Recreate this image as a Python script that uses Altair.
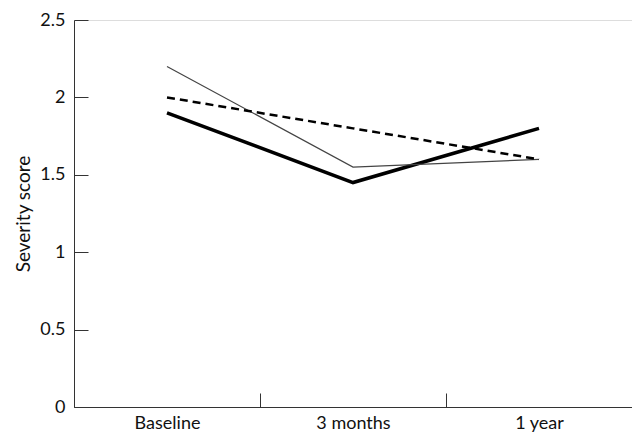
import json
import altair as alt
import pandas as pd

times = ["Baseline", "3 months", "1 year"]
thick_vals = [1.9, 1.45, 1.8]
thin_vals = [2.2, 1.55, 1.6]
dashed_vals = [2.0, 1.8, 1.6]
y_ticks = [0, 0.5, 1, 1.5, 2, 2.5]
x_bounds = [-0.5, 0.5, 1.5, 2.5]

W, H = 558, 387
FONT = "Lato"


def frame(vals):
    return pd.DataFrame({"idx": list(range(len(times))), "time": times, "score": vals})


label_expr = json.dumps(times) + "[datum.value]"

x_main = alt.X(
    "idx:Q",
    scale=alt.Scale(domain=[-0.5, 2.5], nice=False, zero=False),
    axis=alt.Axis(
        orient="bottom", values=[0, 1, 2], labelExpr=label_expr, ticks=False,
        tickSize=0, grid=False, domain=True, domainColor="#333", domainWidth=1,
        labelPadding=7, labelFontSize=18, labelFont=FONT, labelColor="#111",
        title=None,
    ),
)
y_main = alt.Y(
    "score:Q",
    scale=alt.Scale(domain=[0, 2.5], nice=False),
    axis=alt.Axis(
        orient="left", values=y_ticks, format="~g", ticks=False, tickSize=0,
        grid=False, domain=True, domainColor="#333", domainWidth=1,
        labelPadding=9, labelFontSize=18, labelFont=FONT, labelColor="#111",
        title="Severity score", titleFont=FONT, titleFontSize=19,
        titleFontWeight="normal", titleColor="#111", titlePadding=6,
    ),
)

thick = alt.Chart(frame(thick_vals)).mark_line(color="black", strokeWidth=3.5).encode(
    x=x_main, y=y_main
)
thin = alt.Chart(frame(thin_vals)).mark_line(color="#444", strokeWidth=1.2).encode(
    x=alt.X("idx:Q", axis=None), y=alt.Y("score:Q", axis=None)
)
dashed = alt.Chart(frame(dashed_vals)).mark_line(
    color="black", strokeWidth=2.5, strokeDash=[8, 5]
).encode(x=alt.X("idx:Q", axis=None), y=alt.Y("score:Q", axis=None))

# inward ticks via opposite-side axes shifted onto the plot edges
ticks_layer = alt.Chart(frame(thick_vals)).mark_line(opacity=0).encode(
    x=alt.X(
        "idx:Q",
        axis=alt.Axis(
            orient="top", offset=-H, values=x_bounds, labels=False, domain=False,
            ticks=True, tickSize=14, tickColor="#333", tickWidth=1, grid=False,
            title=None,
        ),
    ),
    y=alt.Y(
        "score:Q",
        axis=alt.Axis(
            orient="right", offset=-W, values=y_ticks, labels=False, domain=False,
            ticks=True, tickSize=14, tickColor="#333", tickWidth=1, grid=False,
            title=None,
        ),
    ),
)

chart = (
    alt.layer(thick, thin, dashed, ticks_layer)
    .resolve_axis(x="independent", y="independent")
    .properties(
        width=W, height=H,
        autosize=alt.AutoSizeParams(type="none"),
        padding={"left": 66, "top": 12, "right": 0, "bottom": 28},
    )
    .configure_view(stroke=None)
    .configure(background="white")
)

chart.save("out.html", embed_options={"renderer": "svg", "actions": False})
